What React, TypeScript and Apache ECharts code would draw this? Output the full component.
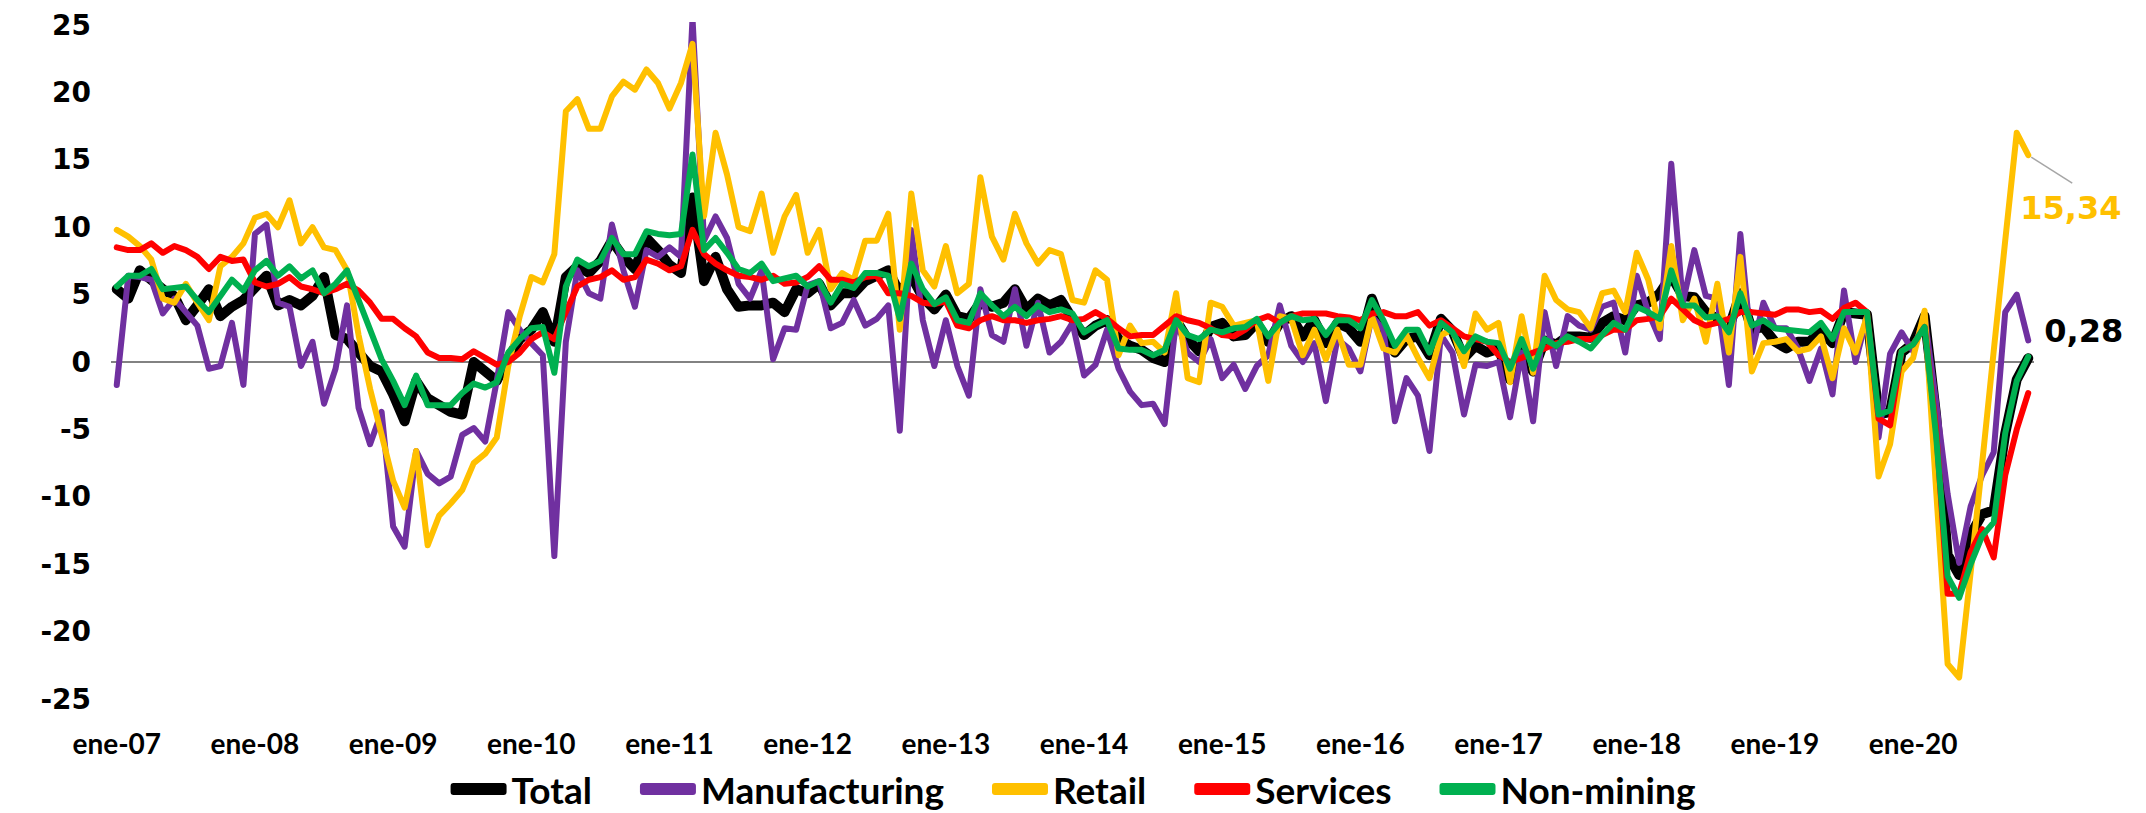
import React, { useEffect, useRef } from "react";
import * as echarts from "echarts";

const monthNames = ["ene", "feb", "mar", "abr", "may", "jun", "jul", "ago", "sep", "oct", "nov", "dic"];
const yearNames = ["07", "08", "09", "10", "11", "12", "13", "14", "15", "16", "17", "18", "19", "20"];
const pointCount = 167;

const totalValues = [
  5.4, 4.7, 6.8, 6.1, 5.4, 4.9, 3.1, 4.2, 5.4, 3.4, 4.1, 4.6,
  5.5, 6.4, 4.2, 4.6, 4.2, 4.9, 6.3, 2.0, 1.7, 0.7, -0.3, -0.7,
  -2.4, -4.4, -1.4, -2.7, -3.2, -3.7, -3.9, 0.0, -0.7, -1.4, 0.3, 1.7,
  2.4, 3.7, 1.5, 6.3, 7.1, 6.6, 7.5, 9.0, 7.8, 6.9, 9.2, 8.3,
  7.2, 6.6, 12.2, 6.0, 7.8, 5.4, 4.1, 4.2, 4.2, 4.4, 3.7, 5.4,
  5.1, 5.8, 4.2, 5.1, 5.1, 6.0, 6.4, 6.8, 5.1, 6.4, 4.8, 3.9,
  5.0, 3.4, 3.2, 4.4, 4.1, 4.4, 5.4, 3.9, 4.7, 4.2, 4.6, 3.2,
  2.0, 2.7, 3.1, 1.7, 1.2, 0.9, 0.3, 0.0, 3.1, 1.7, 0.8, 2.6,
  2.9, 1.9, 2.0, 2.9, 1.5, 2.9, 3.4, 1.9, 3.1, 1.4, 2.9, 2.5,
  1.5, 4.7, 2.4, 0.7, 1.7, 1.9, 0.5, 3.2, 2.3, 0.3, 1.2, 0.7,
  1.0, -1.3, 1.0, -0.7, 1.6, 1.3, 1.9, 1.9, 1.8, 2.9, 3.4, 3.1,
  4.2, 4.4, 5.1, 6.4, 4.9, 4.8, 3.7, 3.2, 2.5, 5.1, 2.4, 2.6,
  1.5, 1.0, 1.5, 1.5, 2.3, 1.4, 3.7, 3.6, 3.5, -3.9, -3.7, 0.7,
  1.4, 3.4, -4.0, -14.3, -15.8, -12.8, -11.3, -11.0, -5.3, -1.3, 0.28,
];

const manufacturingValues = [
  -1.7, 6.4, 6.3, 6.1, 3.6, 4.7, 3.7, 2.7, -0.5, -0.3, 2.9, -1.7,
  9.5, 10.2, 4.4, 4.1, -0.3, 1.5, -3.1, -0.5, 4.2, -3.4, -6.1, -3.7,
  -12.2, -13.7, -6.6, -8.3, -9.0, -8.5, -5.4, -4.9, -5.9, -1.4, 3.7, 2.4,
  1.4, 0.5, -14.4, 1.5, 6.8, 5.1, 4.7, 10.2, 6.8, 4.1, 8.3, 7.8,
  8.5, 7.8, 25.5, 9.0, 10.8, 9.2, 5.8, 4.7, 6.8, 0.2, 2.5, 2.4,
  5.7, 6.0, 2.5, 2.9, 4.6, 2.7, 3.2, 4.2, -5.1, 9.8, 3.1, -0.3,
  3.1, -0.3, -2.5, 5.4, 2.0, 1.5, 5.4, 1.2, 4.4, 0.7, 1.5, 2.9,
  -1.0, -0.2, 2.4, -0.5, -2.2, -3.2, -3.1, -4.6, 3.1, 0.7, 0.0, 1.7,
  -1.2, -0.2, -2.0, -0.3, 0.5, 4.2, 1.2, 0.0, 1.4, -2.9, 1.7, 1.0,
  -0.7, 3.4, 2.4, -4.4, -1.2, -2.5, -6.6, 2.0, 0.7, -3.9, -0.2, -0.3,
  0.0, -4.1, 0.7, -4.4, 3.7, -0.3, 3.4, 2.7, 2.4, 4.1, 4.4, 0.7,
  6.4, 3.7, 1.7, 14.7, 4.4, 8.3, 4.9, 4.7, -1.7, 9.5, 0.7, 4.4,
  2.5, 2.5, 1.0, -1.4, 1.0, -2.4, 5.3, 0.0, 3.4, -5.6, 0.6, 2.2,
  0.8, 3.4, -3.0, -9.8, -14.9, -10.7, -8.4, -6.7, 3.7, 5.0, 1.6,
];

const retailValues = [
  9.8, 9.3, 8.6, 7.6, 4.7, 4.4, 5.8, 4.4, 3.1, 7.1, 7.8, 8.8,
  10.7, 11.0, 10.0, 12.0, 8.8, 10.0, 8.5, 8.3, 6.8, 2.0, -2.0, -5.4,
  -8.8, -10.8, -6.6, -13.6, -11.4, -10.5, -9.5, -7.5, -6.8, -5.6, -0.3, 3.4,
  6.3, 5.9, 8.0, 18.6, 19.5, 17.3, 17.3, 19.7, 20.8, 20.2, 21.7, 20.7,
  18.8, 20.7, 23.6, 10.8, 17.0, 13.9, 10.0, 9.7, 12.5, 8.1, 10.8, 12.4,
  8.1, 9.8, 5.4, 6.6, 6.1, 9.0, 9.0, 11.0, 2.4, 12.5, 6.8, 5.6,
  8.6, 5.1, 5.8, 13.7, 9.3, 7.6, 11.0, 8.8, 7.3, 8.3, 8.0, 4.6,
  4.4, 6.8, 6.1, 0.5, 2.7, 1.4, 1.5, 0.7, 5.1, -1.2, -1.5, 4.4,
  4.1, 2.7, 2.9, 3.1, -1.4, 3.4, 3.2, 0.5, 2.4, 0.2, 2.4, -0.2,
  -0.2, 3.4, 1.0, 0.7, 2.0, 0.3, -1.2, 2.0, 2.4, -0.3, 3.6, 2.4,
  2.9, -1.5, 3.4, -0.8, 6.4, 4.6, 3.9, 3.7, 2.5, 5.1, 5.3, 3.7,
  8.1, 6.1, 2.5, 8.6, 3.1, 4.7, 1.5, 5.8, 0.7, 7.8, -0.7, 1.4,
  1.5, 1.7, 0.8, 1.0, 1.9, -1.2, 2.5, 0.7, 3.4, -8.5, -6.1, -0.7,
  0.3, 3.8, -9.5, -22.4, -23.4, -15.6, -7.5, 0.8, 9.0, 17.0, 15.34,
];

const servicesValues = [
  8.5, 8.3, 8.3, 8.8, 8.1, 8.6, 8.3, 7.8, 6.9, 7.8, 7.5, 7.6,
  5.9, 5.6, 5.8, 6.3, 5.6, 5.4, 5.1, 5.4, 5.8, 5.3, 4.4, 3.2,
  3.2, 2.5, 1.9, 0.7, 0.3, 0.3, 0.2, 0.8, 0.3, -0.2, 0.0, 0.7,
  1.7, 2.2, 1.7, 3.7, 5.6, 6.1, 6.3, 6.8, 6.1, 6.3, 7.6, 7.3,
  6.8, 7.1, 9.8, 8.0, 7.3, 6.8, 6.4, 6.3, 6.1, 6.4, 5.8, 5.9,
  6.3, 7.1, 6.1, 6.1, 5.9, 6.3, 6.4, 5.1, 5.1, 4.9, 4.4, 4.3,
  4.5, 2.7, 2.5, 3.1, 3.4, 3.1, 3.1, 2.9, 3.1, 3.2, 3.4, 3.1,
  3.2, 3.7, 3.2, 2.5, 1.9, 2.0, 2.0, 2.7, 3.4, 3.1, 2.9, 2.5,
  2.0, 1.9, 2.4, 3.1, 3.4, 2.9, 3.4, 3.6, 3.6, 3.6, 3.4, 3.3,
  3.1, 3.6, 3.7, 3.4, 3.4, 3.7, 2.7, 3.1, 2.5, 1.9, 1.7, 1.5,
  0.5, 0.0, 0.3, 0.7, 1.0, 1.4, 1.5, 1.7, 1.7, 2.0, 2.4, 2.4,
  3.1, 3.2, 3.4, 4.7, 3.9, 3.1, 2.7, 2.9, 3.2, 3.7, 3.7, 3.6,
  3.5, 3.9, 3.9, 3.7, 3.8, 3.2, 4.0, 4.4, 3.7, -4.2, -4.7, 0.8,
  1.3, 2.6, -5.0, -17.2, -17.2, -14.1, -12.4, -14.5, -8.4, -5.0, -2.3,
];

const nonMiningValues = [
  5.6, 6.4, 6.4, 6.9, 5.4, 5.5, 5.6, 4.6, 3.7, 4.9, 6.1, 5.3,
  6.8, 7.5, 6.4, 7.1, 6.2, 6.8, 5.1, 5.8, 6.8, 4.6, 2.4, 0.2,
  -1.4, -3.2, -1.0, -3.2, -3.2, -3.2, -2.3, -1.6, -1.9, -1.5, 0.7, 1.7,
  2.5, 2.6, -0.8, 5.6, 7.6, 7.1, 7.5, 9.2, 8.0, 8.0, 9.7, 9.5,
  9.4, 9.5, 15.4, 8.3, 9.2, 8.1, 6.9, 6.6, 7.3, 6.0, 6.2, 6.4,
  5.6, 6.0, 4.4, 5.8, 5.5, 6.6, 6.6, 6.4, 3.2, 7.3, 5.4, 4.3,
  4.8, 3.1, 2.9, 5.1, 4.2, 3.4, 4.1, 3.4, 4.2, 3.7, 3.9, 3.6,
  2.2, 2.7, 3.1, 1.0, 0.9, 0.9, 0.5, 0.9, 3.1, 2.0, 1.7, 2.4,
  2.2, 2.5, 2.6, 3.2, 1.9, 2.9, 3.4, 3.1, 3.2, 2.0, 3.1, 3.1,
  2.5, 4.6, 3.1, 1.2, 2.4, 2.4, 0.7, 2.9, 2.2, 0.8, 1.9, 1.5,
  1.4, -0.5, 1.7, -0.5, 1.7, 1.2, 1.9, 1.5, 1.0, 2.0, 2.9, 2.4,
  4.1, 3.7, 3.2, 6.8, 4.2, 4.2, 3.3, 3.4, 2.2, 5.1, 2.7, 3.1,
  2.5, 2.4, 2.3, 2.2, 2.9, 1.7, 3.7, 3.7, 3.7, -3.9, -3.6, 0.8,
  1.3, 2.6, -5.5, -15.9, -17.5, -15.0, -12.9, -11.9, -5.3, -1.4, 0.4,
];

const yTicks = [-25, -20, -15, -10, -5, 0, 5, 10, 15, 20, 25];
const seriesNames = ["Total", "Manufacturing", "Retail", "Services", "Non-mining"];
const seriesColors = ["#000000", "#7030A0", "#FFC000", "#FF0000", "#00B050"];
const endLabels = ["0,28", "", "15,34", "", ""];

const categories: string[] = [];
yearNames.forEach((y) => monthNames.forEach((m) => categories.push(m + "-" + y)));
const cats = categories.slice(0, pointCount);

const seriesValues = [totalValues, manufacturingValues, retailValues, servicesValues, nonMiningValues];

export default function App() {
  const ref = useRef<HTMLDivElement | null>(null);
  useEffect(() => {
    if (!ref.current) return;
    const chart = echarts.init(ref.current, null, { renderer: "svg" });
    const splitColors = yTicks.map((t) => (t === 0 ? "#595959" : "rgba(0,0,0,0)"));
    const series = seriesValues.map((vals, i) => {
      const s: any = {
        name: seriesNames[i],
        type: "line",
        data: vals,
        symbol: "none",
        showSymbol: false,
        color: seriesColors[i],
        lineStyle: {
          color: seriesColors[i],
          width: i === 0 ? 10 : 6,
          cap: "round",
          join: "round",
        },
      };
      if (endLabels[i]) {
        s.endLabel = {
          show: true,
          formatter: endLabels[i],
          color: seriesColors[i],
          fontFamily: "DejaVu Sans",
          fontWeight: "bold",
          fontSize: 32,
          distance: 0,
          offset: i === 0 ? [16, -27] : [-8, 53],
        };
      }
      return s;
    });
    chart.setOption({
      animation: false,
      backgroundColor: "#ffffff",
      grid: { left: 111, right: 112, top: 25, bottom: 114, containLabel: false },
      legend: {
        data: seriesNames.map((n, i) => ({
          name: n,
          icon: "roundRect",
          itemStyle: { color: seriesColors[i], borderWidth: 0 },
        })),
        top: 769,
        left: "center",
        padding: 0,
        itemWidth: 56,
        itemHeight: 12,
        itemGap: 48,
        textStyle: {
          fontFamily: "Lato",
          fontWeight: "bold",
          fontSize: 37,
          lineHeight: 40,
          color: "#000",
        },
      },
      xAxis: {
        type: "category",
        data: cats,
        boundaryGap: true,
        axisLine: { show: false, onZero: false },
        axisTick: { show: false },
        axisLabel: {
          interval: 11,
          margin: 30,
          fontFamily: "Lato",
          fontWeight: "bold",
          fontSize: 28,
          color: "#000",
        },
        splitLine: { show: false },
      },
      yAxis: {
        type: "value",
        min: -25,
        max: 25,
        interval: 5,
        axisLine: { show: false },
        axisTick: { show: false },
        axisLabel: {
          margin: 20,
          fontFamily: "DejaVu Sans",
          fontWeight: "bold",
          fontSize: 28,
          color: "#000",
        },
        splitLine: { show: true, lineStyle: { color: splitColors, width: 1.5 } },
      },
      series,
    });
    const lastIdx = pointCount - 1;
    const p = chart.convertToPixel({ xAxisIndex: 0, yAxisIndex: 0 }, [lastIdx, retailValues[lastIdx]]) as number[];
    if (p) {
      chart.setOption({
        graphic: [
          {
            type: "line",
            silent: true,
            shape: { x1: p[0] + 3, y1: p[1] + 2, x2: p[0] + 44, y2: p[1] + 28 },
            style: { stroke: "#A6A6A6", lineWidth: 1.5 },
          },
        ],
      });
    }
    return () => chart.dispose();
  }, []);
  return (
    <div
      ref={ref}
      style={{ position: "fixed", left: 0, top: 0, width: 2146, height: 813, background: "#fff" }}
    />
  );
}
